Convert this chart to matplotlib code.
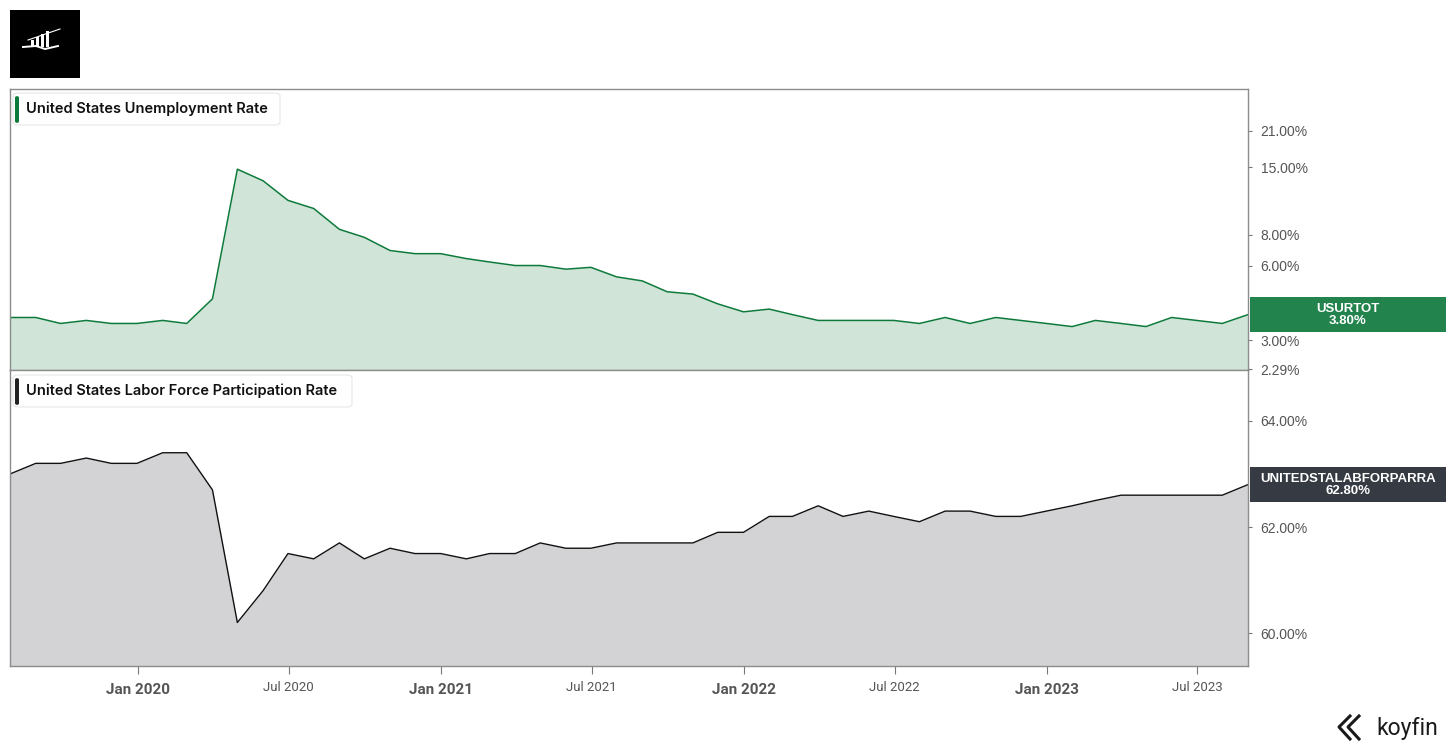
import pandas as pd
import matplotlib
matplotlib.use('Agg')
import matplotlib.pyplot as plt
import matplotlib.dates as mdates
from matplotlib.patches import Rectangle, FancyBboxPatch
from matplotlib.lines import Line2D

W, H = 1456, 752

# monthly observations, Jul 2019 .. Aug 2023 (plotted at month end)
dates = pd.date_range('2019-07-31', periods=50, freq='ME')

unemployment = [
    3.7, 3.7, 3.5, 3.6, 3.5, 3.5,                                  # 2019 H2
    3.6, 3.5, 4.4, 14.7, 13.2, 11.0, 10.2, 8.4, 7.8, 6.9, 6.7, 6.7,  # 2020
    6.4, 6.2, 6.0, 6.0, 5.8, 5.9, 5.4, 5.2, 4.7, 4.6, 4.2, 3.9,      # 2021
    4.0, 3.8, 3.6, 3.6, 3.6, 3.6, 3.5, 3.7, 3.5, 3.7, 3.6, 3.5,      # 2022
    3.4, 3.6, 3.5, 3.4, 3.7, 3.6, 3.5, 3.8,                          # 2023
]
participation = [
    63.0, 63.2, 63.2, 63.3, 63.2, 63.2,
    63.4, 63.4, 62.7, 60.2, 60.8, 61.5, 61.4, 61.7, 61.4, 61.6, 61.5, 61.5,
    61.4, 61.5, 61.5, 61.7, 61.6, 61.6, 61.7, 61.7, 61.7, 61.7, 61.9, 61.9,
    62.2, 62.2, 62.4, 62.2, 62.3, 62.2, 62.1, 62.3, 62.3, 62.2, 62.2, 62.3,
    62.4, 62.5, 62.6, 62.6, 62.6, 62.6, 62.6, 62.8,
]

unemp_ticks = [2.29, 3.0, 6.0, 8.0, 15.0, 21.0]
part_ticks = [60.0, 62.0, 64.0]
x_ticks = pd.date_range('2020-01-01', '2023-07-01', freq='6MS')

GREEN_LINE = '#0d7a3b'
GREEN_FILL = '#d0e5d8'
GREEN_TAG = '#22844c'
GRAY_FILL = '#d3d3d6'
DARK_TAG = '#363a42'
FRAME = '#8c8c8c'
TICK_TXT = '#555555'

TICK_FONT = ['Liberation Sans', 'DejaVu Sans']
DATE_FONT = ['Roboto', 'DejaVu Sans']
BOX_FONT = ['Inter', 'DejaVu Sans']


def fbox(x0, y0, x1, y1):
    # pixel box (top-left origin) -> figure fraction rect
    return [x0 / W, 1 - y1 / H, (x1 - x0) / W, (y1 - y0) / H]


fig = plt.figure(figsize=(W / 100, H / 100), dpi=100)
ax1 = fig.add_axes(fbox(10, 89, 1248, 370))
ax2 = fig.add_axes(fbox(10, 370, 1248, 666), sharex=ax1)

# top: unemployment (log scale)
ax1.set_yscale('log')
ax1.fill_between(dates, unemployment, 0.5, color=GREEN_FILL, lw=0)
ax1.plot(dates, unemployment, color=GREEN_LINE, lw=1.1)
ax1.set_ylim(2.27, 31.0)

# bottom: participation
ax2.fill_between(dates, participation, 50, color=GRAY_FILL, lw=0)
ax2.plot(dates, participation, color='#111111', lw=1.0)
ax2.set_ylim(59.38, 64.96)

ax1.set_xlim(dates[0], dates[-1])

for ax, ticks in ((ax1, unemp_ticks), (ax2, part_ticks)):
    ax.yaxis.tick_right()
    ax.set_yticks(ticks)
    ax.set_yticklabels(['%.2f%%' % t for t in ticks])
    ax.yaxis.set_minor_locator(matplotlib.ticker.NullLocator())
    ax.tick_params(axis='y', direction='out', length=3, width=0.8,
                   color='#777777', pad=6, labelsize=10, labelcolor=TICK_TXT)
    for lab in ax.get_yticklabels():
        lab.set_family(TICK_FONT)
    for sp in ax.spines.values():
        sp.set_color(FRAME)
        sp.set_linewidth(1.0)

ax1.tick_params(axis='x', bottom=False, labelbottom=False)
ax2.set_xticks(x_ticks)
ax2.set_xticklabels([d.strftime('%b %Y') for d in x_ticks])
ax2.tick_params(axis='x', direction='out', length=6, width=0.8,
                color='#777777', pad=6, labelcolor=TICK_TXT)
for d, lab in zip(x_ticks, ax2.get_xticklabels()):
    lab.set_family(DATE_FONT)
    if d.month == 1:
        lab.set_fontsize(11)
        lab.set_fontweight('bold')
    else:
        lab.set_fontsize(9.5)
        lab.set_y(0.005)

# series name boxes
for (x0, y0, x1, y1), bar, text in (((13, 93, 280, 125), GREEN_LINE, 'United States Unemployment Rate'),
                                    ((13, 375, 352, 407), '#222222', 'United States Labor Force Participation Rate')):
    r = fbox(x0, y0, x1, y1)
    fig.patches.append(FancyBboxPatch((r[0], r[1]), r[2], r[3], transform=fig.transFigure,
                                      boxstyle='round,pad=0,rounding_size=0.004',
                                      fc='white', ec='#e6e6e6', lw=0.8))
    b = fbox(x0 + 2, y0 + 3, x0 + 6, y1 - 2)
    fig.patches.append(FancyBboxPatch((b[0], b[1]), b[2], b[3], transform=fig.transFigure,
                                      boxstyle='round,pad=0,rounding_size=0.002',
                                      fc=bar, ec='none'))
    fig.text((x0 + 13) / W, 1 - (y0 + y1) / 2 / H, text, ha='left', va='center',
             fontsize=10.5, fontweight='semibold', color='#111111', family=BOX_FONT)

# last value tags on the right
inv = fig.transFigure.inverted()
for ax, vals, col, name in ((ax1, unemployment, GREEN_TAG, 'USURTOT'),
                            (ax2, participation, DARK_TAG, 'UNITEDSTALABFORPARRA')):
    xd = mdates.date2num(dates[-1])
    yfig = inv.transform(ax.transData.transform((xd, vals[-1])))[1]
    hh = 35 / H
    fig.patches.append(Rectangle((1250 / W, yfig - hh / 2), 196 / W, hh,
                                 transform=fig.transFigure, fc=col, ec='none'))
    fig.text(1348 / W, yfig, '%s\n%.2f%%' % (name, vals[-1]), ha='center', va='center',
             color='white', fontsize=9.5, fontweight='bold', linespacing=1.0,
             family=TICK_FONT)

# logo, top left
lb = fbox(10, 10, 80, 78)
fig.patches.append(Rectangle((lb[0], lb[1]), lb[2], lb[3], transform=fig.transFigure,
                             fc='black', ec='none'))
for bx, top in ((31, 40), (36, 37), (41, 34), (46, 31)):
    r = fbox(bx, top, bx + 2.5, 47)
    fig.patches.append(Rectangle((r[0], r[1]), r[2], r[3], transform=fig.transFigure,
                                 fc='white', ec='none'))
fig.lines.append(Line2D([23 / W, 36 / W, 45 / W, 58 / W],
                        [1 - 47 / H, 1 - 46 / H, 1 - 49 / H, 1 - 46 / H],
                        transform=fig.transFigure, color='white', lw=1.4))
fig.lines.append(Line2D([28 / W, 60 / W], [1 - 40 / H, 1 - 29 / H],
                        transform=fig.transFigure, color='white', lw=0.8))

# koyfin mark, bottom right
for dx in (0, 9):
    fig.lines.append(Line2D([(1350 + dx) / W, (1339 + dx) / W, (1350 + dx) / W],
                            [1 - 716 / H, 1 - 727 / H, 1 - 739 / H],
                            transform=fig.transFigure, color='#1a1a1a', lw=2.2))
fig.text(1376 / W, 1 - 728 / H, 'koyfin', ha='left', va='center', fontsize=16.5,
         color='#1a1a1a', family=DATE_FONT)

fig.savefig('out.png', dpi=100)
